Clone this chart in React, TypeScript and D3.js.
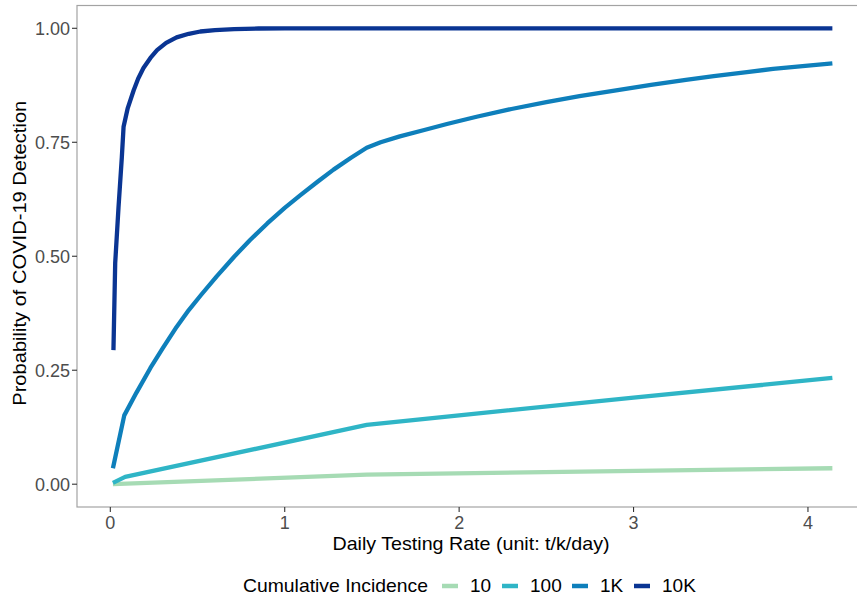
import { useEffect } from 'react'
import * as d3 from 'd3'

// values
const rate10 = [0.015, 1.47, 4.14]
const prob10 = [0.0, 0.021, 0.035]

const rate100 = [0.015, 0.085, 1.47, 2.0, 3.0, 4.14]
const prob100 = [0.003, 0.016, 0.13, 0.151, 0.19, 0.233]

const rate1K = [
  0.015, 0.08, 0.15, 0.23, 0.3, 0.38, 0.45, 0.52, 0.61, 0.71, 0.8, 0.9, 1.0, 1.09, 1.19, 1.28, 1.38, 1.47,
  1.55, 1.66, 1.8, 1.93, 2.1, 2.3, 2.5, 2.69, 2.9, 3.1, 3.3, 3.46, 3.65, 3.8, 4.0, 4.14,
]
const prob1K = [
  0.035, 0.151, 0.201, 0.255, 0.298, 0.345, 0.382, 0.415, 0.456, 0.499, 0.535, 0.572, 0.606, 0.634, 0.664, 0.69,
  0.716, 0.738, 0.75, 0.763, 0.777, 0.79, 0.806, 0.823, 0.838, 0.851, 0.864, 0.876, 0.887, 0.895, 0.904, 0.911,
  0.918, 0.923,
]

const rate10K = [0.018, 0.028, 0.047, 0.066, 0.076, 0.1, 0.134, 0.16, 0.19, 0.23, 0.268, 0.32, 0.38, 0.45, 0.516, 0.6, 0.71, 0.85, 1.0, 4.14]
const prob10K = [0.294, 0.485, 0.607, 0.717, 0.784, 0.825, 0.864, 0.89, 0.913, 0.935, 0.952, 0.968, 0.98, 0.988, 0.993, 0.996, 0.998, 0.9995, 1.0, 1.0]

const groups = ['10', '100', '1K', '10K']
const groupColors = ['#a6dbb4', '#2fb5c6', '#0e7fbb', '#0a3593']
const xTicks = [0, 1, 2, 3, 4]
const yTicks = [0, 0.25, 0.5, 0.75, 1]

const width = 857
const height = 598
const margin = { top: 5.5, right: -12, bottom: 91, left: 77 }

const seriesList = [
  { rate: rate10, prob: prob10 },
  { rate: rate100, prob: prob100 },
  { rate: rate1K, prob: prob1K },
  { rate: rate10K, prob: prob10K },
]

const legendLabelWidths = [20, 30, 22, 32]

export default function App() {
  useEffect(() => {
    document.body.style.margin = '0'
  }, [])

  const x = d3
    .scaleLinear()
    .domain([-0.191, 4.35])
    .range([margin.left, width - margin.right])
  const y = d3
    .scaleLinear()
    .domain([-0.05, 1.05])
    .range([height - margin.bottom, margin.top])

  const line = d3
    .line<[number, number]>()
    .x((d) => x(d[0]))
    .y((d) => y(d[1]))

  const x0 = margin.left
  const x1 = width - margin.right
  const y0 = margin.top
  const y1 = height - margin.bottom
  const font = 'Arial, "Liberation Sans", sans-serif'

  // legend layout
  let cursor = 442
  const legendItems = groups.map((g, i) => {
    const sx = cursor
    const lx = sx + 28
    cursor = lx + legendLabelWidths[i] + 12
    return { g, sx, lx, color: groupColors[i] }
  })

  return (
    <svg width={width} height={height} style={{ display: 'block', fontFamily: font }}>
      <rect x={0} y={0} width={width} height={height} fill="#fff" />
      <rect x={x0} y={y0} width={x1 - x0} height={y1 - y0} fill="none" stroke="#a3a3a3" strokeWidth={1.2} />

      {seriesList.map((s, i) => (
        <path
          key={groups[i]}
          d={line(s.rate.map((r, j) => [r, s.prob[j]] as [number, number])) ?? ''}
          fill="none"
          stroke={groupColors[i]}
          strokeWidth={4.3}
          strokeLinejoin="round"
        />
      ))}

      {yTicks.map((t) => (
        <g key={t}>
          <line x1={x0 - 5} x2={x0} y1={y(t)} y2={y(t)} stroke="#333" strokeWidth={1.1} />
          <text x={x0 - 7} y={y(t)} dy="0.36em" textAnchor="end" fontSize={18} fill="#4d4d4d">
            {t.toFixed(2)}
          </text>
        </g>
      ))}
      {xTicks.map((t) => (
        <g key={t}>
          <line x1={x(t)} x2={x(t)} y1={y1} y2={y1 + 5} stroke="#333" strokeWidth={1.1} />
          <text x={x(t)} y={529} textAnchor="middle" fontSize={18} fill="#4d4d4d">
            {t}
          </text>
        </g>
      ))}

      <text x={471} y={550} textAnchor="middle" fontSize={19} fill="#000" textLength={277} lengthAdjust="spacingAndGlyphs">
        Daily Testing Rate (unit: t/k/day)
      </text>
      <text
        transform={`translate(26,${(y0 + y1) / 2 - 3}) rotate(-90)`}
        textAnchor="middle"
        fontSize={19}
        fill="#000"
        textLength={305}
        lengthAdjust="spacingAndGlyphs"
      >
        Probability of COVID-19 Detection
      </text>

      <text x={243} y={592} fontSize={19} fill="#000" textLength={185} lengthAdjust="spacingAndGlyphs">
        Cumulative Incidence
      </text>
      {legendItems.map((it) => (
        <g key={it.g}>
          <line x1={it.sx} x2={it.sx + 16} y1={586} y2={586} stroke={it.color} strokeWidth={4.5} />
          <text x={it.lx} y={592} fontSize={19} fill="#000">
            {it.g}
          </text>
        </g>
      ))}
    </svg>
  )
}
